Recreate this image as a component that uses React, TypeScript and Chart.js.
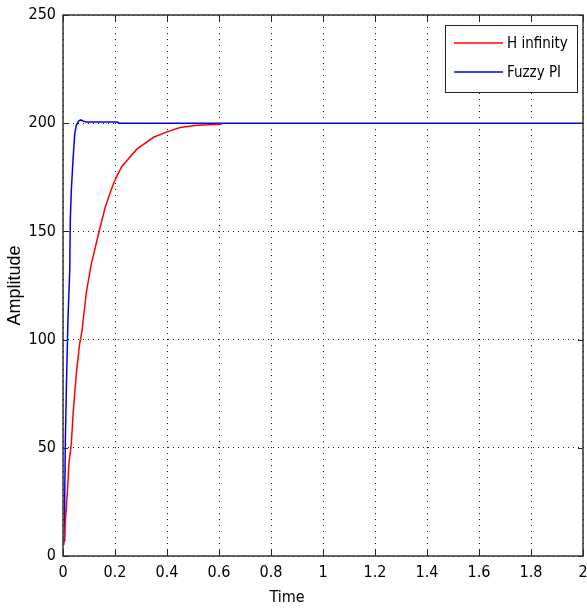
import React, { useEffect, useRef } from "react";
import { Chart, registerables } from "chart.js";

Chart.register(...registerables);

const hinfTime = [0.003, 0.009, 0.017, 0.023, 0.032, 0.039, 0.051, 0.064, 0.073, 0.09, 0.109, 0.141, 0.162, 0.173, 0.194, 0.205, 0.226, 0.284, 0.348, 0.4, 0.451, 0.515, 0.61];
const hinfAmp = [5, 16, 30, 43, 52, 66, 84, 98, 104, 122, 135, 151, 161, 165, 172, 175, 180, 188, 193.5, 196, 198, 199, 199.5];

const fuzzyTime = [0.004, 0.0065, 0.009, 0.013, 0.019, 0.026, 0.028, 0.032, 0.0385, 0.045, 0.051, 0.06, 0.068, 0.077, 0.09, 0.21, 0.215, 2];
const fuzzyAmp = [7, 26, 53, 78, 109, 132, 155, 169, 183, 195, 199, 201, 201.5, 201, 200.5, 200.5, 200, 200];

const xTicks = [0, 0.2, 0.4, 0.6, 0.8, 1, 1.2, 1.4, 1.6, 1.8, 2];
const yTicks = [0, 50, 100, 150, 200, 250];
const seriesLabels = ["H infinity", "Fuzzy PI"];
const seriesColors = ["#ff0000", "#0000ff"];
const xTitle = "Time";
const yTitle = "Amplitude";

const NARROW = "'DejaVu Sans Condensed', 'Liberation Sans Narrow', 'Liberation Sans', Arial, sans-serif";
const TICK_FONT = { family: NARROW, size: 16 };

const innerTicks = {
  id: "innerTicks",
  afterDatasetsDraw(chart: any) {
    const { ctx, chartArea: a, scales } = chart;
    ctx.save();
    ctx.strokeStyle = "#222";
    ctx.lineWidth = 1;
    ctx.beginPath();
    for (const v of xTicks) {
      const px = Math.round(scales.x.getPixelForValue(v)) + 0.5;
      ctx.moveTo(px, a.bottom);
      ctx.lineTo(px, a.bottom - 7);
      ctx.moveTo(px, a.top);
      ctx.lineTo(px, a.top + 7);
    }
    for (const v of yTicks) {
      const py = Math.round(scales.y.getPixelForValue(v)) + 0.5;
      ctx.moveTo(a.left, py);
      ctx.lineTo(a.left + 5, py);
      ctx.moveTo(a.right, py);
      ctx.lineTo(a.right - 5, py);
    }
    ctx.stroke();
    ctx.lineWidth = 1.5;
    ctx.strokeStyle = "#333";
    ctx.strokeRect(a.left, a.top, a.right - a.left, a.bottom - a.top);
    // x-axis title, placed like the reference (centred on the figure)
    ctx.fillStyle = "#000";
    ctx.font = "16px " + NARROW;
    ctx.textAlign = "center";
    ctx.textBaseline = "middle";
    ctx.fillText(xTitle, 287, 598);
    ctx.restore();
  },
};

const boxLegend = {
  id: "boxLegend",
  afterDraw(chart: any) {
    const { ctx, chartArea: a } = chart;
    const w = 132;
    const h = 67;
    const x = a.right - 6 - w;
    const y = a.top + 10;
    ctx.save();
    ctx.fillStyle = "#ffffff";
    ctx.fillRect(x, y, w, h);
    ctx.strokeStyle = "#222";
    ctx.lineWidth = 1;
    ctx.strokeRect(Math.round(x) + 0.5, Math.round(y) + 0.5, w, h);
    ctx.font = "15px " + NARROW;
    ctx.textBaseline = "middle";
    ctx.textAlign = "left";
    chart.data.datasets.forEach((ds: any, i: number) => {
      const ry = y + 18 + i * 29;
      ctx.strokeStyle = ds.borderColor;
      ctx.lineWidth = 1.5;
      ctx.beginPath();
      ctx.moveTo(x + 9, ry);
      ctx.lineTo(x + 58, ry);
      ctx.stroke();
      ctx.fillStyle = "#000";
      ctx.fillText(ds.label, x + 62, ry + 1);
    });
    ctx.restore();
  },
};

export default function App() {
  const ref = useRef<HTMLCanvasElement>(null);
  useEffect(() => {
    document.body.style.margin = "0";
    const canvas = ref.current!;
    const chart = new Chart(canvas, {
      type: "scatter",
      data: {
        datasets: [
          {
            label: seriesLabels[0],
            data: hinfTime.map((t, i) => ({ x: t, y: hinfAmp[i] })),
            showLine: true,
            borderColor: seriesColors[0],
            backgroundColor: seriesColors[0],
            borderWidth: 1.5,
            pointRadius: 0,
          },
          {
            label: seriesLabels[1],
            data: fuzzyTime.map((t, i) => ({ x: t, y: fuzzyAmp[i] })),
            showLine: true,
            borderColor: seriesColors[1],
            backgroundColor: seriesColors[1],
            borderWidth: 1.5,
            pointRadius: 0,
          },
        ],
      },
      options: {
        animation: false,
        responsive: false,
        maintainAspectRatio: false,
        layout: { padding: { top: 15, right: 4, left: 0, bottom: 0 } },
        plugins: { legend: { display: false }, tooltip: { enabled: false } },
        scales: {
          x: {
            type: "linear",
            min: 0,
            max: 2,
            afterBuildTicks: (s: any) => {
              s.ticks = xTicks.map((v) => ({ value: v }));
            },
            afterFit: (s: any) => {
              s.height = 54;
              s.paddingLeft = 0;
              s.paddingRight = 0;
            },
            ticks: {
              color: "#000",
              font: TICK_FONT,
              padding: 7,
              maxRotation: 0,
              autoSkip: false,
              callback: (v: any) => String(v),
            },
            grid: {
              color: "rgba(0,0,0,0.9)",
              lineWidth: 1,
              drawTicks: false,
              tickLength: 0,
            },
            border: { display: false, dash: [1, 5] },
            title: { display: false },
          },
          y: {
            type: "linear",
            min: 0,
            max: 250,
            afterBuildTicks: (s: any) => {
              s.ticks = yTicks.map((v) => ({ value: v }));
            },
            afterFit: (s: any) => {
              s.width = 63;
              s.paddingTop = 0;
              s.paddingBottom = 0;
            },
            ticks: {
              color: "#000",
              font: TICK_FONT,
              padding: 7,
              autoSkip: false,
              callback: (v: any) => String(v),
            },
            grid: {
              color: "rgba(0,0,0,0.9)",
              lineWidth: 1,
              drawTicks: false,
              tickLength: 0,
            },
            border: { display: false, dash: [1, 4] },
            title: {
              display: true,
              text: yTitle,
              color: "#000",
              font: { family: "'Liberation Sans', Arial, sans-serif", size: 18 },
              padding: { top: 4, bottom: 0 },
            },
          },
        },
      },
      plugins: [innerTicks, boxLegend],
    });
    return () => chart.destroy();
  }, []);
  return (
    <div style={{ width: 587, height: 610, background: "#fff" }}>
      <canvas ref={ref} width={587} height={610} style={{ display: "block" }} />
    </div>
  );
}
